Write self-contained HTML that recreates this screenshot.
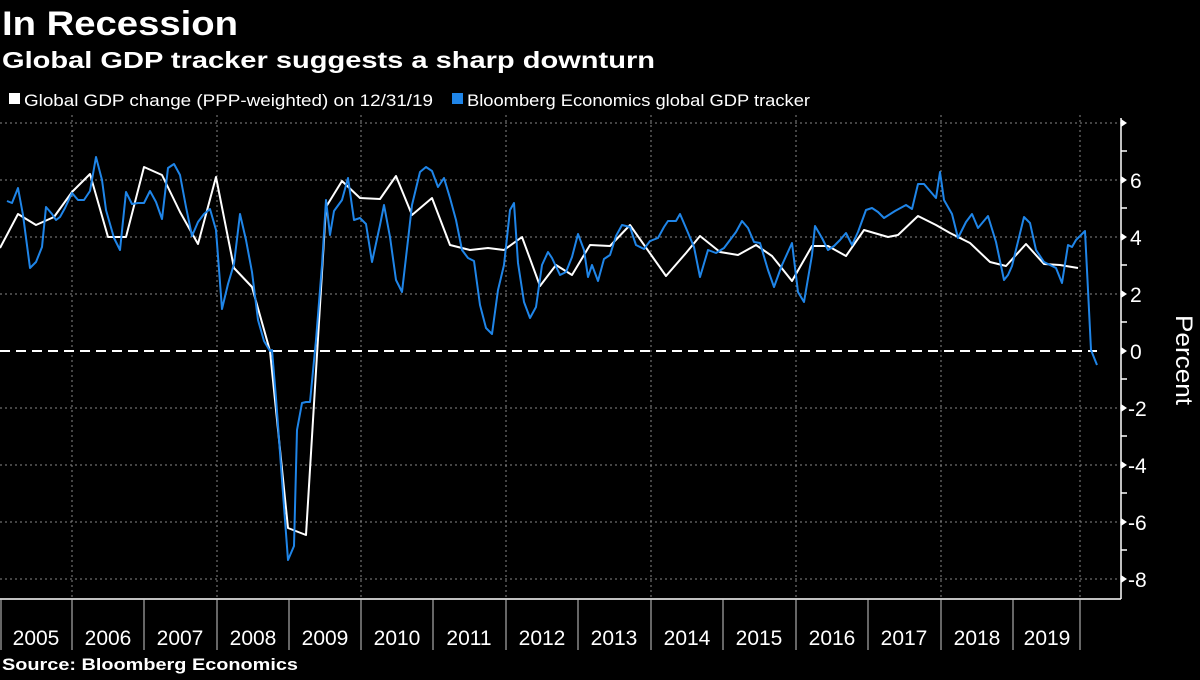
<!DOCTYPE html>
<html><head><meta charset="utf-8"><style>
body{margin:0;background:#000;width:1200px;height:675px;overflow:hidden;font-family:"Liberation Sans",sans-serif;}
</style></head><body>
<svg width="1200" height="675" xmlns="http://www.w3.org/2000/svg" font-family="Liberation Sans, sans-serif">
<rect width="1200" height="675" fill="#000"/>
<text x="2" y="35" fill="#fff" font-size="34" font-weight="bold" textLength="236" lengthAdjust="spacingAndGlyphs">In Recession</text>
<text x="2" y="68" fill="#fff" font-size="23" font-weight="bold" textLength="653" lengthAdjust="spacingAndGlyphs">Global GDP tracker suggests a sharp downturn</text>
<rect x="9" y="93" width="11" height="11" fill="#fff"/>
<text x="24" y="106" fill="#fff" font-size="17" textLength="409" lengthAdjust="spacingAndGlyphs">Global GDP change (PPP-weighted) on 12/31/19</text>
<rect x="452" y="93" width="11" height="11" fill="#1f85e8"/>
<text x="467" y="106" fill="#fff" font-size="17" textLength="343" lengthAdjust="spacingAndGlyphs">Bloomberg Economics global GDP tracker</text>
<g stroke="#888" stroke-width="1" stroke-dasharray="2,3">
<line x1="0" y1="123" x2="1121" y2="123"/><line x1="0" y1="180" x2="1121" y2="180"/><line x1="0" y1="237" x2="1121" y2="237"/><line x1="0" y1="294" x2="1121" y2="294"/><line x1="0" y1="408" x2="1121" y2="408"/><line x1="0" y1="465" x2="1121" y2="465"/><line x1="0" y1="522" x2="1121" y2="522"/><line x1="0" y1="579" x2="1121" y2="579"/>
<line x1="72" y1="115" x2="72" y2="599"/><line x1="217" y1="115" x2="217" y2="599"/><line x1="361" y1="115" x2="361" y2="599"/><line x1="506" y1="115" x2="506" y2="599"/><line x1="651" y1="115" x2="651" y2="599"/><line x1="796" y1="115" x2="796" y2="599"/><line x1="941" y1="115" x2="941" y2="599"/><line x1="1080" y1="115" x2="1080" y2="599"/>
</g>
<line x1="0" y1="351" x2="1097" y2="351" stroke="#fff" stroke-width="2" stroke-dasharray="10,6"/>
<line x1="0" y1="599" x2="1121" y2="599" stroke="#fff" stroke-width="1.5"/>
<g stroke="#ccc" stroke-width="1">
<line x1="1" y1="599" x2="1" y2="650"/><line x1="72" y1="599" x2="72" y2="650"/><line x1="144" y1="599" x2="144" y2="650"/><line x1="217" y1="599" x2="217" y2="650"/><line x1="289" y1="599" x2="289" y2="650"/><line x1="361" y1="599" x2="361" y2="650"/><line x1="433" y1="599" x2="433" y2="650"/><line x1="506" y1="599" x2="506" y2="650"/><line x1="578" y1="599" x2="578" y2="650"/><line x1="651" y1="599" x2="651" y2="650"/><line x1="723" y1="599" x2="723" y2="650"/><line x1="796" y1="599" x2="796" y2="650"/><line x1="868" y1="599" x2="868" y2="650"/><line x1="941" y1="599" x2="941" y2="650"/><line x1="1013" y1="599" x2="1013" y2="650"/><line x1="1080" y1="599" x2="1080" y2="650"/>
</g>
<g fill="#fff" font-size="21" text-anchor="middle">
<text x="36" y="645">2005</text><text x="108" y="645">2006</text><text x="180" y="645">2007</text><text x="253" y="645">2008</text><text x="325" y="645">2009</text><text x="397" y="645">2010</text><text x="469" y="645">2011</text><text x="542" y="645">2012</text><text x="614" y="645">2013</text><text x="687" y="645">2014</text><text x="759" y="645">2015</text><text x="832" y="645">2016</text><text x="904" y="645">2017</text><text x="977" y="645">2018</text><text x="1047" y="645">2019</text>
</g>
<text x="2" y="670" fill="#fff" font-size="17" font-weight="bold" textLength="296" lengthAdjust="spacingAndGlyphs">Source: Bloomberg Economics</text>
<line x1="1121" y1="118" x2="1121" y2="599" stroke="#fff" stroke-width="1.5"/>
<g stroke="#fff" stroke-width="1.5">
<line x1="1121" y1="151" x2="1127" y2="151"/><line x1="1121" y1="208" x2="1127" y2="208"/><line x1="1121" y1="265" x2="1127" y2="265"/><line x1="1121" y1="322" x2="1127" y2="322"/><line x1="1121" y1="379" x2="1127" y2="379"/><line x1="1121" y1="436" x2="1127" y2="436"/><line x1="1121" y1="493" x2="1127" y2="493"/><line x1="1121" y1="550" x2="1127" y2="550"/>
</g>
<g fill="#fff"><polygon points="1121,119 1127,123 1121,127"/><polygon points="1121,176 1127,180 1121,184"/><polygon points="1121,233 1127,237 1121,241"/><polygon points="1121,290 1127,294 1121,298"/><polygon points="1121,347 1127,351 1121,355"/><polygon points="1121,404 1127,408 1121,412"/><polygon points="1121,461 1127,465 1121,469"/><polygon points="1121,518 1127,522 1121,526"/><polygon points="1121,575 1127,579 1121,583"/></g>
<g fill="#fff" font-size="21">
<text x="1130" y="188">6</text><text x="1130" y="245">4</text><text x="1130" y="302">2</text><text x="1130" y="359">0</text><text x="1128" y="416">-2</text><text x="1128" y="473">-4</text><text x="1128" y="530">-6</text><text x="1128" y="587">-8</text>
</g>
<text transform="translate(1176,360) rotate(90)" fill="#fff" font-size="24" text-anchor="middle" textLength="90" lengthAdjust="spacingAndGlyphs">Percent</text>
<polyline fill="none" stroke="#fff" stroke-width="2" stroke-linejoin="round" points="0,248 18,214 36,225 54,217 72,192 90,174 108,237 126,237 144,167 162,175 180,212 198,244 216,177 234,268 252,287 270,351 288,528 306,535 326,207 342,181 360,198 380,199 396,176 412,215 432,198 450,245 470,250 488,248 504,250 522,237 540,286 556,265 572,275 590,245 610,246 630,225 666,276 686,253 700,236 720,252 738,255 756,245 772,256 792,281 812,246 828,246 846,256 864,230 888,237 898,235 918,216 936,225 950,233 970,243 990,262 1006,266 1026,244 1044,264 1060,265 1078,268"/>
<polyline fill="none" stroke="#1f85e8" stroke-width="2" stroke-linejoin="round" points="7,201 12,203 18,188 23,215 30,268 36,262 42,247 46,207 52,214 56,220 60,217 65,208 72,193 78,200 84,200 90,191 96,157 102,180 106,210 114,238 120,250 126,192 132,204 138,203 144,203 150,191 156,202 162,219 168,168 174,164 180,175 186,207 192,236 198,222 204,214 210,209 216,230 222,309 228,284 234,264 240,214 246,240 252,272 258,320 264,341 270,351 272,350 276,398 282,480 288,560 294,546 297,430 302,403 306,402 310,402 316,340 322,265 326,200 330,235 334,211 342,200 348,178 354,220 360,218 366,224 372,262 380,225 384,205 390,237 396,280 402,292 408,240 412,205 420,172 426,167 432,171 438,187 444,178 450,198 456,220 462,250 468,258 474,261 480,305 486,328 492,334 498,290 504,265 510,210 514,203 518,263 524,302 530,318 536,307 542,265 548,252 552,258 560,275 566,272 572,257 578,234 584,250 588,277 592,265 598,281 604,259 610,255 616,236 622,225 630,227 636,245 644,249 650,241 658,238 664,227 668,221 676,221 680,214 686,228 694,247 700,277 708,250 716,253 724,248 730,240 736,232 742,221 748,228 754,242 760,243 768,270 774,287 782,265 792,243 798,292 804,302 812,255 815,226 822,238 828,250 834,246 840,240 846,233 852,245 858,232 866,210 872,208 878,212 884,218 895,211 906,205 912,209 918,184 924,184 936,198 940,172 944,200 952,214 958,238 966,222 972,214 978,228 988,216 996,242 1004,280 1008,275 1012,266 1024,217 1030,223 1036,250 1044,262 1048,264 1056,268 1062,283 1068,245 1072,247 1076,240 1085,231 1088,290 1091,350 1097,365"/>
</svg>
</body></html>
